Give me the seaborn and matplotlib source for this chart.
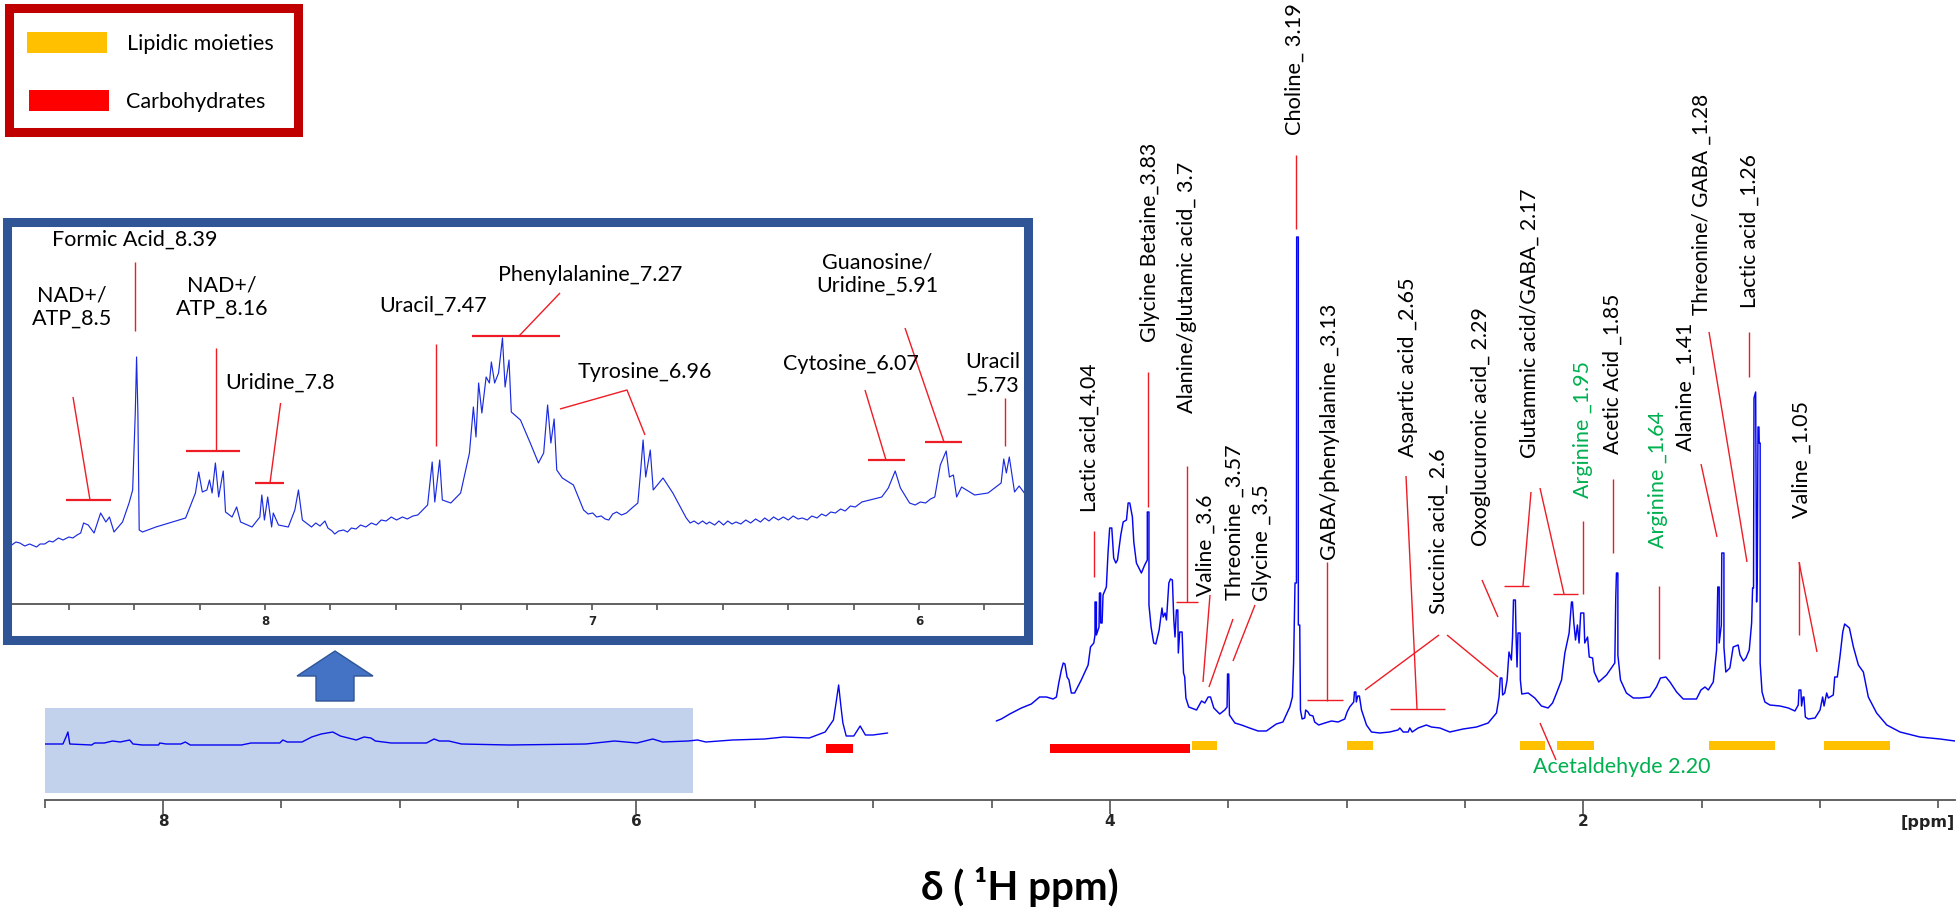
import matplotlib
matplotlib.use("Agg")
import matplotlib.pyplot as plt
from matplotlib.patches import Rectangle, Polygon
import seaborn as sns

# main spectrum, left part (ppm, intensity)
left_ppm = [8.504,8.423,8.410,8.402,8.394,8.302,8.289,8.248,8.213,8.181,8.141,8.127,8.087,8.019,8.014,7.987,7.925,7.906,7.885,7.669,7.628,7.507,7.494,7.475,7.413,7.372,7.332,7.283,7.251,7.184,7.151,7.122,7.103,7.036,6.887,6.855,6.833,6.793,6.739,6.537,6.214,6.092,5.998,5.931,5.890,5.782,5.742,5.707,5.594,5.459,5.378,5.270,5.203,5.168,5.157,5.146,5.136,5.128,5.114,5.082,5.055,5.033,5.001,4.939]
left_int = [56,56,63,68,56,55,57,57,59,58,60,56,55,55,57,56,56,58,55,55,57,57,60,58,58,63,66,68,64,60,63,62,59,57,57,61,59,59,56,55,56,59,57,61,58,59,60,58,60,61,63,62,68,80,97,115,93,77,64,64,74,65,65,67]

# main spectrum, right part
right_ppm = [4.480,4.459,4.423,4.374,4.332,4.297,4.268,4.240,4.226,4.216,4.205,4.197,4.190,4.181,4.173,4.163,4.149,4.121,4.092,4.082,4.068,4.063,4.063,4.057,4.057,4.046,4.044,4.039,4.039,4.033,4.029,4.015,4.008,4.001,3.992,3.984,3.975,3.968,3.954,3.944,3.930,3.923,3.916,3.905,3.899,3.888,3.867,3.853,3.842,3.842,3.835,3.835,3.826,3.815,3.806,3.792,3.780,3.775,3.767,3.761,3.751,3.744,3.736,3.730,3.725,3.719,3.713,3.711,3.705,3.695,3.689,3.684,3.679,3.667,3.634,3.613,3.599,3.585,3.575,3.561,3.536,3.515,3.505,3.503,3.498,3.495,3.472,3.444,3.410,
    3.374,3.339,3.297,3.269,3.240,3.229,3.224,3.218,3.212,3.211,3.204,3.204,3.198,3.195,3.188,3.177,3.173,3.163,3.156,3.142,3.135,3.118,3.092,3.064,3.036,3.008,2.998,2.987,2.970,2.967,2.961,2.959,2.953,2.946,2.937,2.916,2.895,2.860,2.818,2.783,2.775,2.761,2.740,2.733,2.723,2.698,2.663,2.642,2.606,2.564,2.508,2.451,2.402,2.367,2.356,2.351,2.344,2.341,2.332,2.322,
    2.314,2.304,2.299,2.295,2.287,2.284,2.280,2.276,2.267,2.266,2.260,2.233,2.205,2.177,2.149,2.130,2.113,2.092,2.078,2.060,2.050,2.046,2.040,2.033,2.025,2.018,2.011,1.998,1.994,1.982,1.975,1.961,1.954,1.935,1.902,1.867,1.863,1.860,1.854,1.854,1.843,1.818,1.789,1.761,1.719,1.691,1.674,1.651,1.634,1.606,1.578,1.522,1.503,1.486,1.472,1.451,1.437,1.432,1.426,1.426,1.417,1.415,1.406,1.406,1.398,1.381,1.367,1.346,
    1.338,1.324,1.313,1.299,1.289,1.285,1.281,1.279,1.272,1.269,1.268,1.265,1.262,1.258,1.257,1.253,1.253,1.245,1.233,1.212,1.169,1.134,1.106,1.092,1.089,1.081,1.078,1.072,1.068,1.062,1.050,1.021,1.000,0.989,0.983,0.972,0.965,0.944,0.938,0.927,0.916,0.904,0.896,0.876,0.859,0.838,0.817,0.796,0.761,0.718,0.662,0.578,0.493,0.430]
right_int = [79,81,86,92,96,103,103,101,103,117,130,137,136,123,120,107,107,120,135,153,157,165,198,198,165,173,207,207,177,177,205,213,247,272,272,242,237,240,265,278,280,297,297,283,258,237,227,235,240,288,288,195,173,157,156,170,192,183,187,180,217,221,220,180,163,190,190,147,168,168,127,123,102,93,90,99,97,103,103,92,86,90,93,126,126,85,77,75,72,
    69,69,76,78,93,103,137,217,217,563,563,175,175,90,81,82,90,88,85,84,78,75,77,79,78,81,88,93,98,108,108,98,104,104,90,75,68,67,68,70,72,68,68,72,68,72,75,73,72,68,71,73,77,87,103,122,122,105,107,120,
    148,140,163,200,200,163,133,167,167,120,106,107,102,94,92,97,107,120,147,167,198,198,177,160,175,157,187,187,157,163,143,142,128,118,125,137,202,227,227,145,120,107,102,102,103,113,122,123,118,108,101,101,110,113,110,118,150,213,213,157,175,247,247,153,128,132,153,155,
    145,139,142,150,177,212,212,402,408,232,198,232,373,373,357,357,137,108,98,95,94,92,89,95,110,110,94,103,103,83,81,82,90,103,94,107,102,105,123,123,143,168,176,172,153,135,128,103,87,75,68,63,61,59]

# expanded region 8.8 - 5.7 ppm
inset_ppm = [8.775,8.762,8.750,8.735,8.720,8.699,8.688,8.674,8.660,8.649,8.632,8.618,8.600,8.588,8.575,8.564,
    8.555,8.541,8.523,8.503,8.487,8.476,8.462,8.436,8.416,8.405,8.397,8.393,8.389,8.385,8.375,8.334,8.284,8.243,8.213,8.203,8.192,8.178,8.170,8.162,8.152,8.142,8.128,8.121,8.101,8.087,8.075,8.040,8.016,8.010,8.002,7.992,7.980,7.975,7.959,7.929,7.909,7.898,7.886,
    7.858,7.845,7.832,7.817,7.808,7.795,7.787,7.775,7.760,7.748,7.736,7.722,7.708,7.692,7.675,7.660,7.645,7.630,7.614,7.598,7.580,7.565,7.548,7.533,
    7.503,7.489,7.481,7.466,7.458,7.432,7.402,7.375,7.363,7.355,7.347,7.337,7.324,7.314,7.308,7.298,7.286,7.274,7.266,7.254,7.247,7.219,7.189,7.164,7.148,7.136,7.126,7.116,7.108,7.091,7.057,
    7.026,7.012,6.998,6.986,6.972,6.960,6.949,6.937,6.925,6.910,6.895,6.878,6.860,
    6.852,6.844,6.836,6.822,6.813,6.783,6.753,
    6.712,6.700,6.688,6.675,6.662,6.650,6.641,6.625,6.612,6.598,6.585,6.572,6.560,6.545,6.530,6.515,6.500,6.485,6.472,6.459,6.445,6.430,6.415,6.400,6.385,6.370,6.357,6.342,6.328,6.312,6.298,6.285,6.270,6.256,6.240,6.226,6.210,6.195,6.175,
    6.114,6.094,6.073,6.057,
    6.029,6.012,5.996,5.980,5.965,5.952,
    5.935,5.917,5.907,5.895,5.885,5.870,5.830,5.789,5.749,5.741,5.733,5.724,5.708,5.694,5.678]
inset_int = [59,62,61,58,60,57,60,60,63,62,66,64,67,66,69,71,
    81,79,71,91,82,87,72,82,101,114,191,247,191,74,72,77,82,86,111,132,112,114,124,111,141,107,133,92,87,97,82,77,87,109,84,107,77,91,79,77,94,114,84,
    77,81,78,83,76,73,70,73,74,72,76,75,79,77,81,79,84,83,87,84,87,85,88,89,
    99,142,102,144,104,101,111,151,197,167,221,191,227,221,242,221,231,266,217,244,192,184,161,141,151,199,161,185,134,126,119,
    94,90,91,87,88,85,84,90,92,89,91,96,101,
    131,164,127,154,114,126,111,
    86,81,83,80,83,80,82,79,83,79,83,80,82,80,84,81,85,82,86,83,87,84,87,84,88,85,86,84,88,86,90,88,92,91,95,93,98,97,102,
    107,116,133,116,
    101,99,102,101,105,107,
    139,153,127,129,107,117,109,111,121,145,131,147,112,118,111]

# assigned regions under the spectrum
lipid_start = [3.652, 3.000, 2.268, 2.113, 1.470, 0.983]
lipid_stop = [3.546, 2.890, 2.163, 1.956, 1.190, 0.705]
carb_start = [5.200, 4.255]
carb_stop = [5.087, 3.663]

main_ticks = [8.5,8.0,7.5,7.0,6.5,6.0,5.5,5.0,4.5,4.0,3.5,3.0,2.5,2.0,1.5,1.0,0.5]
main_major = [8.0,6.0,4.0,2.0]
inset_ticks = [8.6,8.4,8.2,8.0,7.8,7.6,7.4,7.2,7.0,6.8,6.6,6.4,6.2,6.0,5.8]
inset_major = [8.0,7.0,6.0]

W, H = 1958, 908
BLUE = "#0505F0"
RED = "#EE1C25"
ORANGE = "#FFC000"
GREEN = "#00B050"

sns.set_style("white")
plt.rcParams['font.family'] = ['Lato', 'DejaVu Sans']
fig = plt.figure(figsize=(W / 100, H / 100), dpi=100)


def axes_at(x0, y0, x1, y1):
    return fig.add_axes([x0 / W, 1 - y1 / H, (x1 - x0) / W, (y1 - y0) / H])


def spectrum_axis(ax, ticks, major, tick_font, minor_len, major_len):
    sns.despine(ax=ax, left=True)
    ax.spines['bottom'].set_color('#555555')
    ax.spines['bottom'].set_linewidth(1.3)
    ax.set_yticks([])
    ax.set_xticks(ticks)
    ax.set_xticklabels([str(int(t)) if t in major else "" for t in ticks],
                       fontfamily='DejaVu Sans', fontweight='bold', fontsize=tick_font)
    ax.tick_params(axis='x', bottom=True, length=minor_len, width=1.1, color='#444444', pad=4)
    for t, tick in zip(ticks, ax.xaxis.get_major_ticks()):
        if t in major:
            tick.tick1line.set_markersize(major_len)
    ax.set_xlabel("")
    ax.set_ylabel("")
    ax.patch.set_alpha(0)


# full spectrum
ax = axes_at(44.7, 0, 1955, 800)
ax.add_patch(Rectangle((5.76, 7), 8.5 - 5.76, 85, facecolor="#C3D2EC", edgecolor="none", zorder=0))
sns.lineplot(x=left_ppm, y=left_int, estimator=None, sort=False, color=BLUE, lw=1.0, ax=ax)
sns.lineplot(x=right_ppm, y=right_int, estimator=None, sort=False, color=BLUE, lw=1.05, ax=ax)
ax.barh([54.5] * len(lipid_start), [a - b for a, b in zip(lipid_start, lipid_stop)],
        left=lipid_stop, height=9, color=ORANGE, lw=0)
ax.barh([52] * len(carb_start), [a - b for a, b in zip(carb_start, carb_stop)],
        left=carb_stop, height=9, color="#FF0000", lw=0)
ax.set_xlim(8.5, 2 - (1955 - 1583.5) / 236.6)
ax.set_ylim(0, 800)
spectrum_axis(ax, main_ticks, main_major, 11, 6, 10)

# expanded spectrum
ins = axes_at(12, 226, 1025, 604)
sns.lineplot(x=inset_ppm, y=inset_int, estimator=None, sort=False, color="#1B2BE0", lw=0.85, ax=ins)
ins.set_xlim(8.774, 5.676)
ins.set_ylim(0, 378)
spectrum_axis(ins, inset_ticks, inset_major, 8.5, 4, 4)

# everything drawn by hand in the picture goes on a pixel layer
top = fig.add_axes([0, 0, 1, 1])
top.set_xlim(0, W)
top.set_ylim(H, 0)
top.axis('off')
renderer = fig.canvas.get_renderer()

top.add_patch(Rectangle((7.5, 221.5), 1021, 418, fill=False, edgecolor="#2F5597", lw=6.5))
top.add_patch(Rectangle((9.5, 7.5), 289, 124, fill=False, edgecolor="#C00000", lw=6.5))
top.add_patch(Rectangle((27, 32), 80, 21, facecolor=ORANGE, edgecolor="none"))
top.add_patch(Rectangle((29, 90), 80, 21, facecolor="#FF0000", edgecolor="none"))
top.text(127, 44, "Lipidic moieties", fontsize=15.5, va='center', ha='left', color='black')
top.text(126, 102, "Carbohydrates", fontsize=15.5, va='center', ha='left', color='black')
top.add_patch(Polygon([(335, 651), (373, 676), (354, 676), (354, 701), (316, 701), (316, 676), (297, 676)],
                      facecolor="#4472C4", edgecolor="#2F5597", lw=1))

# inset labels: text, x, y
inset_labels = [
    ("Formic Acid_8.39", 135, 240), ("NAD+/\nATP_8.5", 72, 307), ("NAD+/\nATP_8.16", 222, 297),
    ("Uracil_7.47", 433, 306), ("Phenylalanine_7.27", 590, 275), ("Uridine_7.8", 280, 383),
    ("Tyrosine_6.96", 645, 372), ("Cytosine_6.07", 851, 364), ("Guanosine/\nUridine_5.91", 877, 274),
    ("Uracil\n_5.73", 993, 374),
]
for txt, x, y in inset_labels:
    top.text(x, y, txt, fontsize=15.5, ha='center', va='center', linespacing=1.2, color='black')

# rotated labels: text, x, bottom y, length in pixels, colour
rot_labels = [
    ("Lactic acid_4.04", 1090, 512, 149, 'black'), ("Glycine Betaine_3.83", 1150, 342, 199, 'black'),
    ("Alanine/glutamic acid_ 3.7", 1187, 413, 251, 'black'), ("Choline_ 3.19", 1295, 135, 132, 'black'),
    ("Valine _3.6", 1206, 596, 102, 'black'), ("Threonine _3.57", 1235, 600, 155, 'black'),
    ("Glycine _3.5", 1262, 601, 116, 'black'), ("GABA/phenylalanine _3.13", 1330, 560, 255, 'black'),
    ("Aspartic acid _2.65", 1408, 457, 179, 'black'), ("Succinic acid_ 2.6", 1439, 614, 165, 'black'),
    ("Oxoglucuronic acid_ 2.29", 1481, 546, 238, 'black'), ("Glutammic acid/GABA_ 2.17", 1530, 458, 270, 'black'),
    ("Arginine _1.95", 1583, 498, 136, GREEN), ("Acetic Acid _1.85", 1613, 454, 161, 'black'),
    ("Arginine _1.64", 1658, 548, 136, GREEN), ("Alanine _1.41", 1686, 451, 128, 'black'),
    ("Threonine/ GABA _1.28", 1702, 315, 222, 'black'), ("Lactic acid _1.26", 1750, 308, 154, 'black'),
    ("Valine _1.05", 1802, 518, 117, 'black'),
]
for txt, x, y, length, col in rot_labels:
    t = top.text(x, y, txt, fontsize=15, rotation=90, ha='center', va='bottom', color=col)
    t.set_fontsize(15 * length / t.get_window_extent(renderer).height)
top.text(1622, 767, "Acetaldehyde 2.20", fontsize=15.5, ha='center', va='center', color=GREEN)

# leader lines, as (x list, y list)
thin_leaders = [
    ([135, 135], [262, 331]), ([73, 90], [397, 500]), ([215.6, 215.6], [348, 451]),
    ([280.6, 270], [403, 483]), ([436, 436], [344, 446]), ([560, 519], [293, 336]),
    ([560, 627, 645], [409, 390, 435]), ([865, 886], [390, 460]), ([905, 944], [328, 442]),
    ([1005, 1005], [398, 446]),
    ([1094, 1094], [531, 577]), ([1148, 1148], [372, 507]), ([1187, 1187], [466, 602]),
    ([1296, 1296], [155, 229]), ([1210, 1203], [595, 682]), ([1233, 1209], [619, 687]),
    ([1255, 1233], [605, 661]), ([1327, 1327], [562, 701]), ([1406, 1417], [476, 709]),
    ([1365, 1439], [690, 635]), ([1447, 1498], [635, 677]), ([1482, 1498], [580, 617]),
    ([1531, 1523], [492, 586]), ([1540, 1564], [488, 594]), ([1583, 1583], [521, 594]),
    ([1613, 1613], [479, 553]), ([1659, 1659], [586, 659]), ([1701, 1717], [464, 537]),
    ([1709, 1747], [332, 562]), ([1749, 1749], [332, 377]), ([1799, 1799], [562, 635]),
    ([1799, 1817], [562, 652]), ([1540, 1556], [723, 760]),
]
for xs, ys in thin_leaders:
    top.plot(xs, ys, color=RED, lw=1.0, solid_capstyle='butt')

# flat bars over the peak groups
inset_bars = [([66, 111], 500), ([186, 240], 451), ([255, 284], 483), ([472, 560], 336),
              ([868, 905], 460), ([925, 962], 442)]
for xs, y in inset_bars:
    top.plot(xs, [y, y], color=RED, lw=1.6, solid_capstyle='butt')
main_bars = [([1176, 1198], 602), ([1307, 1343], 700), ([1390, 1445], 709),
             ([1504, 1529], 586), ([1553, 1578], 594)]
for xs, y in main_bars:
    top.plot(xs, [y, y], color=RED, lw=1.0, solid_capstyle='butt')

top.text(1955, 822, "[ppm]", fontfamily='DejaVu Sans', fontweight='bold', fontsize=11.5,
         ha='right', va='center', color='#222222')
top.text(1020, 887, "δ ( ¹H ppm)", fontsize=29, fontweight='bold', ha='center', va='center', color='black')

fig.savefig("out.png", dpi=100)
